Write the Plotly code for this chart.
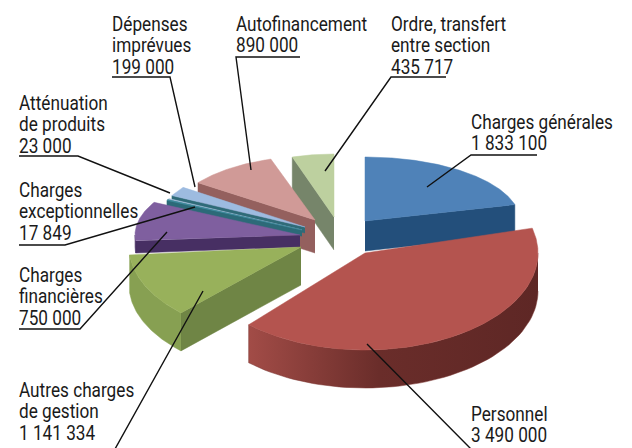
import numpy as np
import plotly.graph_objects as go

# ---- data ----
categories = [
    "Charges générales", "Personnel", "Autres charges de gestion",
    "Charges financières", "Charges exceptionnelles", "Atténuation de produits",
    "Dépenses imprévues", "Autofinancement", "Ordre, transfert entre section",
]
values = [1833100, 3490000, 1141334, 750000, 17849, 23000, 199000, 890000, 435717]
label_lines = [
    ["Charges générales"], ["Personnel"], ["Autres charges", "de gestion"],
    ["Charges", "financières"], ["Charges", "exceptionnelles"], ["Atténuation", "de produits"],
    ["Dépenses", "imprévues"], ["Autofinancement"], ["Ordre, transfert", "entre section"],
]

# ---- styles (cx, cy, rx, ry, depth, start/end view correction in degrees) ----
geom = [
    (365, 221, 155, 64, 30, 0, 0), (365, 253, 173, 97, 38, 0, 4), (301, 247, 172, 92, 38, 6, 0),
    (300, 235, 165, 70, 12, 0, 2), (302, 230, 150, 68, 6, 0, 0), (302, 230, 150, 68, 6, 0, 0),
    (305, 227, 150, 68, 6, 0, 0), (315, 220, 144, 64, 33, 0, 0), (334, 217, 136, 63, 33, 0, 0),
]
top_col = ["#4f82b8", "#b4544f", "#98b15b", "#7f5f9f", "#3f8a9c", "#a8c0dc", "#9dbbe0", "#d09a97", "#bdd09f"]
radial_col = ["#234f7b", "#6d2e2b", "#6f8545", "#472f63", "#2c6a78", "#2c6a78", "#2f6b78", "#94605e", "#76856a"]
outer_col = ["#234f7b", "#7a3431", "#87a052", "#472f63", "#2c6a78", "#2c6a78", "#2f6b78", "#94605e", "#76856a"]
draw_order = [8, 7, 6, 5, 4, 3, 2, 0, 1]
# label: text x, y of first line centre, underline (x0, x1, y), leader end
label_pos = [
    (471, 122, (471, 537, 155), (427, 187)),
    (471, 414, (471, 548, 449), (367, 344)),
    (19, 390, (19, 115, 449), (203, 291)),
    (19, 275, (19, 80, 329), (167, 232)),
    (19, 190, (19, 65, 245), (195, 207)),
    (19, 103, (19, 78, 156), (170, 193)),
    (112, 24, (112, 170, 77), (195, 187)),
    (236, 24, (236, 300, 57), (251, 170)),
    (391, 24, (391, 446, 77), (325, 171)),
]
# which end of the underline the leader leaves from
leader_from_right = [False, False, True, True, True, True, True, False, False]
LINE = 21.3
FONT = "Roboto"
FS = 20
CONDENSE = 0.86

total = sum(values)
angles = np.cumsum([0] + [v / total * 360 for v in values])

fig = go.Figure()


def pt(g, deg, down=0):
    a = np.radians(deg)
    return g[0] + g[2] * np.sin(a), g[1] - g[3] * np.cos(a) + down


def poly(xs, ys, color, name, grad=None):
    kw = dict(fillcolor=color)
    if grad:
        kw = dict(fillgradient=dict(type="horizontal", colorscale=grad))
    fig.add_trace(go.Scatter(x=list(xs), y=list(ys), mode="lines", fill="toself",
                             line=dict(color=color, width=0.5),
                             name=name, hoverinfo="name", showlegend=False, **kw))


for i in draw_order:
    g = geom[i]
    a, b = angles[i] + g[5], angles[i + 1] + g[6]
    d = g[4]
    # radial wall facing the viewer
    r = b if b < 180 else (a if a >= 180 else None)
    if r is not None:
        x1, y1 = pt(g, r)
        poly([g[0], x1, x1, g[0]], [g[1], y1, y1 + d, g[1] + d], radial_col[i], categories[i])
    # outer wall
    lo, hi = max(a, 90), min(b, 270)
    if hi > lo:
        t = np.linspace(lo, hi, 60)
        xt, yt = pt(g, t)
        grad = None
        if i == 1:
            grad = [[0, "#a24c47"], [0.45, "#6a2d2a"], [1, "#5e2725"]]
        poly(np.r_[xt, xt[::-1]], np.r_[yt, (yt + d)[::-1]], outer_col[i], categories[i], grad)
    # top face
    t = np.linspace(a, b, max(int(b - a) * 2, 4))
    xt, yt = pt(g, t)
    poly(np.r_[g[0], xt, g[0]], np.r_[g[1], yt, g[1]], top_col[i], categories[i])

annotations = []
for i, (tx, ty, ul, end) in enumerate(label_pos):
    val = f"{values[i]:,}".replace(",", " ")
    annotations.append(dict(x=tx, y=ty - 14, text="<br>".join(label_lines[i] + [val]), showarrow=False,
                            xanchor="left", yanchor="top", align="left", xshift=-2,
                            font=dict(family=FONT, size=FS, color="#1a1a1a")))
    x0, x1, uy = ul
    if leader_from_right[i]:
        lx, ly = [x0, x1, end[0]], [uy, uy, end[1]]
    else:
        lx, ly = [x1, x0, end[0]], [uy, uy, end[1]]
    fig.add_trace(go.Scatter(x=lx, y=ly, mode="lines", line=dict(color="#111", width=1.4),
                             hoverinfo="skip", showlegend=False))

fig.update_layout(
    width=632, height=448, margin=dict(l=0, r=0, t=0, b=0),
    paper_bgcolor="white", plot_bgcolor="white", showlegend=False, annotations=annotations,
    xaxis=dict(range=[0, 632], visible=False, fixedrange=True),
    yaxis=dict(range=[448, 0], visible=False, fixedrange=True),
)
squeeze = (
    "document.body.style.margin='0';"
    "document.querySelectorAll('.annotation-text').forEach(function(t){"
    "t.querySelectorAll('tspan.line').forEach(function(s,k){s.setAttribute('dy',(k*%s)+'px');});"
    "var L=t.getBBox().x;"
    "t.setAttribute('transform','translate('+L+',0) scale(%s,1) translate('+(-L)+',0)');});" % (LINE, CONDENSE)
)
fig.write_html("out.html", post_script=squeeze, config=dict(displayModeBar=False))
